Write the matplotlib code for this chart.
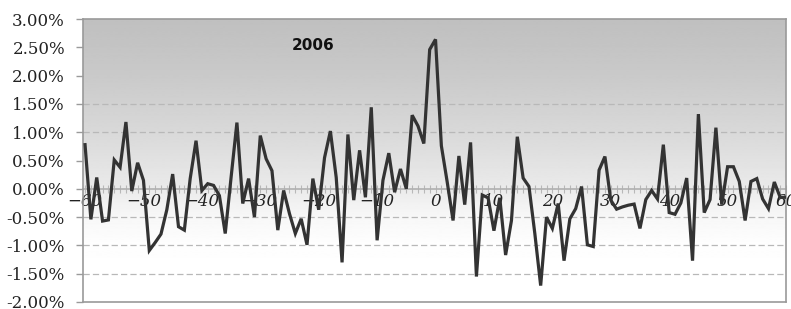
import numpy as np
import matplotlib
matplotlib.use("Agg")
import matplotlib.pyplot as plt
from matplotlib.ticker import MultipleLocator, FuncFormatter

# event days -60 .. 60
days = np.arange(-60, 61)

# daily values in percent
vals = [
    0.78, -0.54, 0.20, -0.57, -0.55, 0.51, 0.38, 1.18, -0.04, 0.46,    # -60 .. -51
    0.15, -1.09, -0.95, -0.80, -0.37, 0.26, -0.67, -0.73, 0.18, 0.85,  # -50 .. -41
    -0.03, 0.09, 0.06, -0.12, -0.79, 0.20, 1.17, -0.26, 0.18, -0.50,   # -40 .. -31
    0.94, 0.53, 0.32, -0.73, -0.03, -0.44, -0.79, -0.53, -0.99, 0.18,  # -30 .. -21
    -0.37, 0.55, 1.02, 0.20, -1.30, 0.96, -0.20, 0.68, -0.15, 1.44,    # -20 .. -11
    -0.91, 0.15, 0.63, -0.06, 0.35, 0.00, 1.30, 1.11, 0.80, 2.46,      # -10 .. -1
    2.64,                                                              # 0
    0.76, 0.12, -0.56, 0.58, -0.28, 0.82, -1.55, -0.11, -0.16, -0.74,  # 1 .. 10
    -0.16, -1.17, -0.56, 0.92, 0.19, 0.04, -0.79, -1.71, -0.50, -0.70, # 11 .. 20
    -0.26, -1.27, -0.53, -0.35, 0.04, -0.99, -1.02, 0.33, 0.57, -0.20, # 21 .. 30
    -0.36, -0.32, -0.29, -0.27, -0.70, -0.19, -0.03, -0.18, 0.78, -0.42, # 31 .. 40
    -0.45, -0.25, 0.19, -1.27, 1.32, -0.42, -0.19, 1.08, -0.28, 0.39,  # 41 .. 50
    0.39, 0.13, -0.56, 0.13, 0.18, -0.18, -0.35, 0.12, -0.15, -0.15,   # 51 .. 60
]

title = "2006"
x_ticks = list(range(-60, 61, 10))
y_ticks = [-2.0, -1.5, -1.0, -0.5, 0.0, 0.5, 1.0, 1.5, 2.0, 2.5, 3.0]
grid_levels = [1.5, 1.0, -0.5, -1.0, -1.5]

fig = plt.figure(figsize=(7.91, 3.09), dpi=100)
ax = fig.add_axes([83 / 791, 1 - 302 / 309, (786 - 83) / 791, (302 - 19) / 309])
ax.set_xlim(-60.35, 60.0)
ax.set_ylim(-2.0, 3.0)

# grey-to-white background gradient
yy = np.linspace(3.0, -2.0, 300)
shade = np.interp(yy, [-2.0, -1.0, -0.5, 0.0, 1.0, 2.0, 3.0],
                  [1.0, 0.995, 0.97, 0.92, 0.85, 0.79, 0.75])
ax.imshow(shade[:, None], cmap="gray", vmin=0, vmax=1, aspect="auto",
          extent=[-60.35, 60.0, -2.0, 3.0], zorder=0, interpolation="bilinear")

for g in grid_levels:
    ax.axhline(g, color="#b8b8b8", lw=0.9, ls=(0, (5, 2.5)), zorder=1)

ax.plot(days, vals, color="#333333", lw=2.3, zorder=4, solid_joinstyle="miter")

ax.text(-21, 2.54, title, fontsize=11, fontweight="bold", family="DejaVu Sans",
        ha="center", va="center", color="#111111")

for s in ax.spines.values():
    s.set_color("#9a9a9a")
    s.set_linewidth(1.2)

ax.set_xticks([])
ax.yaxis.set_major_locator(plt.FixedLocator(y_ticks))
ax.yaxis.set_major_formatter(FuncFormatter(lambda v, p: "%.2f%%" % v))
ax.tick_params(axis="y", direction="out", length=5, width=1, color="#9a9a9a",
               pad=8, labelsize=12, labelcolor="#222222")
for lab in ax.get_yticklabels():
    lab.set_family("DejaVu Serif")

# horizontal axis drawn through zero
sec = ax.secondary_xaxis(0.4)
sec.spines["bottom"].set_color("#b0b0b0")
sec.spines["bottom"].set_linewidth(1.2)
sec.set_xticks(x_ticks)
sec.xaxis.set_minor_locator(MultipleLocator(1))
sec.tick_params(axis="x", which="both", direction="inout", length=6, width=0.8,
                color="#b8b8b8", pad=0, labelsize=12, labelcolor="#222222")
for lab in sec.get_xticklabels():
    lab.set_family("DejaVu Serif")
    lab.set_style("italic")

fig.savefig("out.png", dpi=100)
